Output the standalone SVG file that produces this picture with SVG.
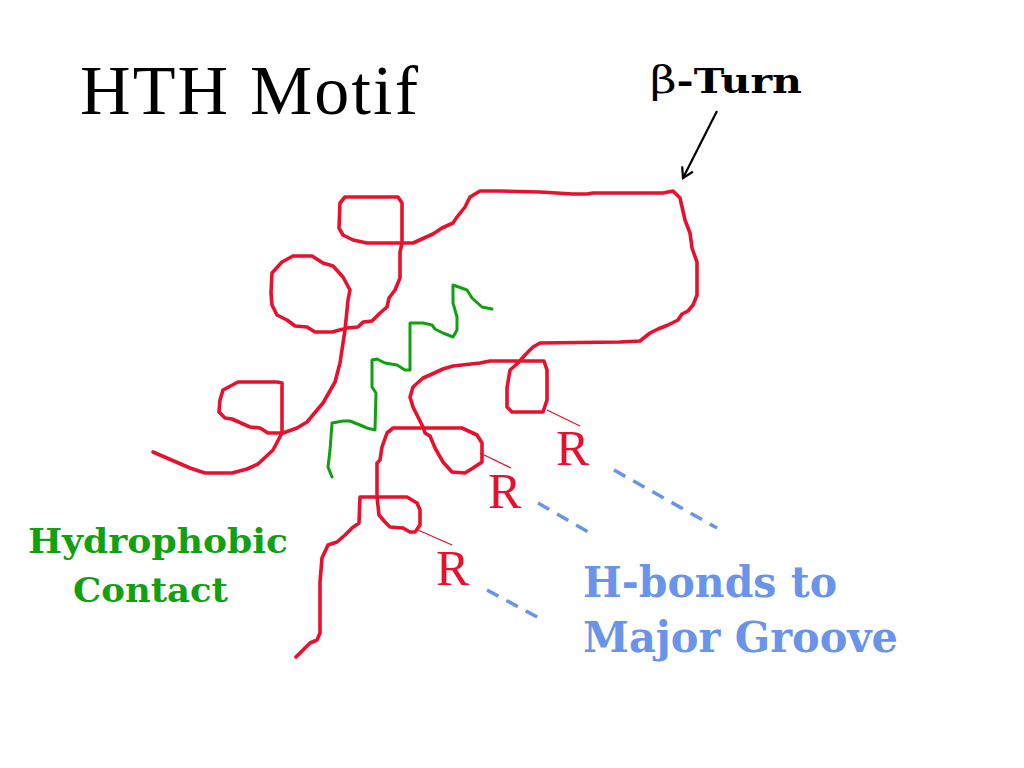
<svg xmlns="http://www.w3.org/2000/svg" width="1024" height="768" viewBox="0 0 1024 768">
<style>
.strand{fill:none;stroke:#e8112d;stroke-width:3.6;stroke-linejoin:round;stroke-linecap:round}
.hyd{fill:none;stroke:#10a010;stroke-width:3;stroke-linejoin:round;stroke-linecap:round}
.tick{stroke:#e8112d;stroke-width:1.3}
.hb{stroke:#6a94ea;stroke-width:3.5;stroke-dasharray:13 9;fill:none}
.r{font-family:"Liberation Serif",serif;font-size:50px;fill:#e8112d}
.lab{font-family:"DejaVu Serif",serif;font-weight:bold}
</style>
<defs>
<marker id="ah" markerWidth="14" markerHeight="14" refX="11" refY="7" orient="auto" markerUnits="userSpaceOnUse">
<path d="M1,1 L11,7 L1,13" fill="none" stroke="#000" stroke-width="2.2"/>
</marker>
</defs>
<rect width="1024" height="768" fill="#fff"/>
<text x="80" y="114" font-family="Liberation Serif,serif" font-size="70" textLength="338" lengthAdjust="spacing" fill="#000">HTH Motif</text>
<g id="beta-turn-label">
<text x="650" y="93" font-family="DejaVu Serif,serif" font-size="34" textLength="152" lengthAdjust="spacingAndGlyphs" fill="#000"><tspan font-size="38">β</tspan><tspan font-weight="bold">-Turn</tspan></text>
</g>
<g id="connectors">
<line x1="717" y1="111" x2="683" y2="178" stroke="#000" stroke-width="2.2" marker-end="url(#ah)"/>
<line class="tick" x1="547" y1="410" x2="580" y2="426"/>
<line class="tick" x1="480" y1="453" x2="511" y2="468"/>
<line class="tick" x1="418" y1="530" x2="452" y2="545"/>
<line class="hb" x1="614" y1="470" x2="717" y2="528"/>
<line class="hb" x1="538" y1="503" x2="590" y2="533"/>
<line class="hb" x1="487" y1="590" x2="539" y2="618"/>
</g>
<g id="protein-strand">
<path class="strand" d="M153,452 L190,468 L205,473 L232,473 L247,469 L258,464 L273,450 L282,433 L282,383 L277,382 L238,382 L223,390 L220,400 L219,412 L225,418 L232,419 L250,427 L260,428 L268,433 L283,433 L297,428 L307,422 L323,403 L335,382 L340,363 L345,330 L348,300 L350,290 L343,277 L333,266 L323,263 L312,256 L293,256 L282,262 L272,273 L271,293 L272,305 L277,315 L287,320 L295,326 L307,327 L315,332 L332,332 L347,328 L358,327 L363,322 L372,321 L380,313 L387,307 L389,298 L395,290 L400,278 L400,252 L402,243 L402,203 L398,197 L345,197 L340,203 L339,228 L343,235 L353,240 L367,243 L402,243 L413,243 L433,234 L442,228 L453,223 L457,217 L465,207 L470,197 L480,191 L500,191 L540,192 L573,194 L587,194 L593,193 L663,193 L673,191 L680,198 L685,220 L690,233 L692,248 L697,262 L697,295 L693,305 L688,311 L682,314 L678,320 L668,325 L658,329 L650,333 L640,341 L620,342 L540,343 L533,347 L525,355 L518,363 L510,370 L507,388 L507,407 L512,412 L543,412 L547,400 L547,370 L544,361 L520,361 L490,361 L480,363 L453,366 L443,369 L430,375 L423,378 L413,387 L410,397 L413,407 L418,417 L423,427 L425,433 L430,436 L435,448 L443,462 L452,472 L465,473 L473,468 L482,462 L482,443 L477,435 L462,428 L393,428 L387,433 L382,447 L380,460 L377,463 L377,497 L379,515 L385,522 L390,527 L403,528 L410,532 L415,532 L420,525 L420,510 L417,503 L407,497 L360,497 L359,523 L352,528 L345,535 L337,542 L328,545 L322,558 L320,582 L320,633 L317,640 L310,643 L296,657"/>
</g>
<g id="hydrophobic-strand">
<path class="hyd" d="M332,477 L328,467 L330,450 L332,423 L343,421 L350,421 L360,425 L367,428 L375,430 L376,393 L372,387 L372,360 L377,359 L385,363 L397,365 L405,370 L410,370 L410,323 L423,323 L432,325 L435,329 L443,333 L453,337 L457,330 L457,317 L453,303 L453,285 L467,290 L472,298 L482,307 L492,309"/>
</g>
<g id="r1"><text class="r" x="556" y="465">R</text></g>
<g id="r2"><text class="r" x="488" y="508">R</text></g>
<g id="r3"><text class="r" x="436" y="585">R</text></g>
<g id="hydrophobic-label" fill="#10a010">
<text class="lab" x="28" y="553" font-size="33" textLength="260" lengthAdjust="spacingAndGlyphs">Hydrophobic</text>
<text class="lab" x="73" y="602" font-size="33" textLength="155" lengthAdjust="spacingAndGlyphs">Contact</text>
</g>
<g id="hbond-label" fill="#6a94ea">
<text class="lab" x="583" y="597" font-size="42" textLength="254" lengthAdjust="spacingAndGlyphs">H-bonds to</text>
<text class="lab" x="583" y="652" font-size="42" textLength="315" lengthAdjust="spacingAndGlyphs">Major Groove</text>
</g>
</svg>
